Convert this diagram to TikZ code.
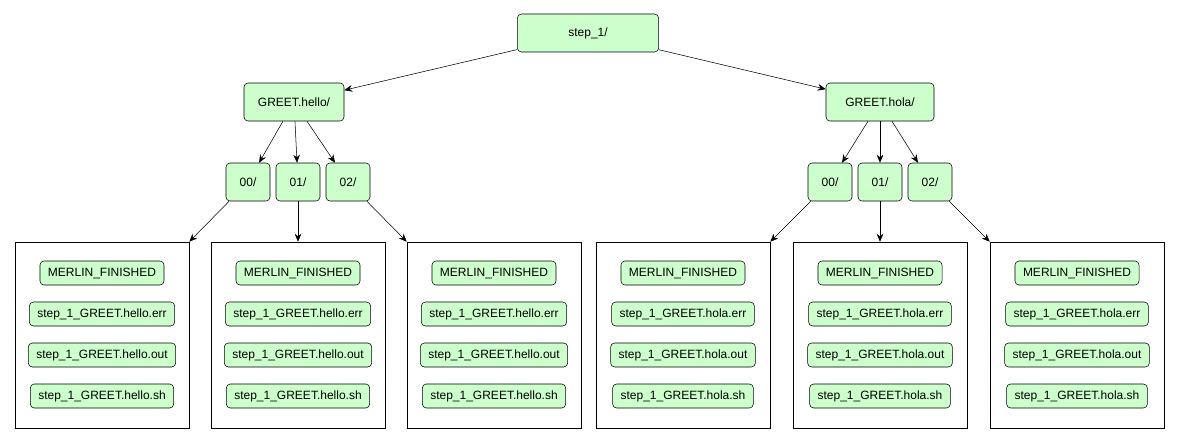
\documentclass[tikz,border=0pt]{standalone}
\usepackage{fontspec}
\setmainfont{Liberation Sans}
\usetikzlibrary{positioning,arrows.meta}
\definecolor{dirgreen}{HTML}{CCFFCC}
\tikzset{dir/.style={draw,fill=dirgreen,rounded corners=3pt,font=\fontsize{9}{11}\selectfont,minimum height=28.5pt,inner xsep=7pt},
         sub/.style={dir,minimum height=28.5pt,inner xsep=6pt},
         file/.style={draw,fill=dirgreen,rounded corners=3pt,font=\fontsize{9}{11}\selectfont,minimum height=18pt,inner xsep=6pt},
         box/.style={draw,minimum width=130.5pt,minimum height=139.5pt},
         >={Stealth[length=6pt,width=5pt]}}

\begin{document}
\begin{tikzpicture}[x=0.75pt,y=-0.75pt]
  \useasboundingbox (0,0) rectangle (1179,443);
  \node[dir,minimum width=106pt] (step) at (588,33) {step\_1/};
  \node[dir,minimum width=75pt] (hello) at (294,102) {GREET.hello/};
  \node[dir,minimum width=81pt] (hola) at (880,102) {GREET.hola/};
  % sample directories
  \foreach \n/\x in {h0/248,h1/298,h2/348,o0/830,o1/880,o2/930}
    \node[sub,minimum width=33pt] (\n) at (\x,182) {};
  \foreach \n/\t in {h0/00,h1/01,h2/02,o0/00,o1/01,o2/02}
    \node at (\n) {\fontsize{9}{11}\selectfont \t/};
  % output folders
  \foreach \b/\x/\s in {b1/102/hello,b2/298/hello,b3/494/hello,b4/683/hola,b5/880/hola,b6/1077/hola} {
    \node[box] (\b) at (\x,335) {};
    \node[file] (\b m) at (\x,273) {MERLIN\_FINISHED};
    \node[file] (\b e) at (\x,314) {step\_1\_GREET.\s.err};
    \node[file] (\b o) at (\x,355) {step\_1\_GREET.\s.out};
    \node[file] (\b s) at (\x,396) {step\_1\_GREET.\s.sh};
  }
  \draw[->] (step) -- (hello);
  \draw[->] (step) -- (hola);
  \foreach \p/\c in {hello/h0,hello/h1,hello/h2,hola/o0,hola/o1,hola/o2}
    \draw[->] (\p) -- (\c);
  \draw[->] (h0) -- (b1.north east);
  \draw[->] (h1) -- (b2.north);
  \draw[->] (h2) -- (b3.north west);
  \draw[->] (o0) -- (b4.north east);
  \draw[->] (o1) -- (b5.north);
  \draw[->] (o2) -- (b6.north west);
\end{tikzpicture}
\end{document}
